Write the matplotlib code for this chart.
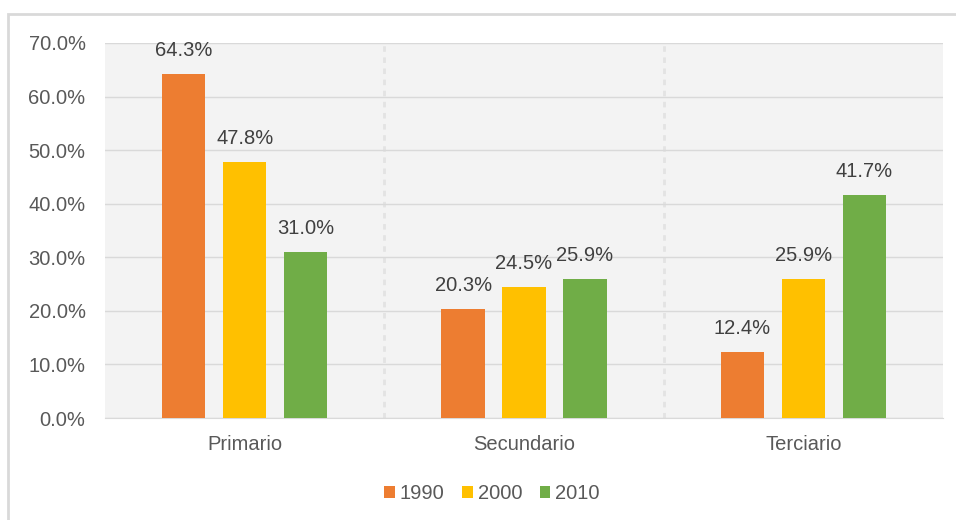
import numpy as np
import matplotlib
matplotlib.use('Agg')
import matplotlib.pyplot as plt
from matplotlib.patches import Rectangle

# ---------------- data ----------------
categories = ['Primario', 'Secundario', 'Terciario']
years = ['1990', '2000', '2010']
v1990 = [64.3, 20.3, 12.4]
v2000 = [47.8, 24.5, 25.9]
v2010 = [31.0, 25.9, 41.7]
colors = ['#ed7d31', '#ffc000', '#70ad47']

plt.rcParams['font.family'] = ['Liberation Sans', 'DejaVu Sans']
fs = 14.5
txt = '#595959'

fig = plt.figure(figsize=(9.56, 5.2), dpi=100)
# outer chart frame
fig.patches.append(Rectangle((8 / 956, -0.01), 0.995, 1 - 14 / 520 + 0.01,
                             transform=fig.transFigure, fill=False,
                             edgecolor='#d9d9d9', linewidth=2))

ax = fig.add_axes([105 / 956, 1 - 418 / 520, 838 / 956, 375 / 520])
ax.set_facecolor('#f3f3f3')

x = np.arange(len(categories))
width = 0.155
step = 0.218
for i, (vals, yr) in enumerate(zip([v1990, v2000, v2010], years)):
    pos = x + (i - 1) * step
    bars = ax.bar(pos, vals, width, color=colors[i], label=yr, zorder=3)
    for b, v in zip(bars, vals):
        ax.text(b.get_x() + b.get_width() / 2, v + 2.6, f'{v:.1f}%',
                ha='center', va='bottom', fontsize=fs, color='#404040')

ax.set_xlim(-0.5, 2.5)
ax.set_ylim(0, 70)
ax.set_yticks(np.arange(0, 71, 10))
ax.set_yticklabels([f'{t:.1f}%' for t in np.arange(0, 71, 10)])
ax.set_xticks(x)
ax.set_xticklabels(categories)
ax.tick_params(axis='both', length=0, labelsize=fs, colors=txt)
ax.tick_params(axis='y', pad=14)
ax.tick_params(axis='x', pad=12)

ax.grid(axis='y', color='#d9d9d9', linewidth=1, zorder=0)
for sep in [0.5, 1.5]:
    ax.axvline(sep, color='#e3e3e3', linewidth=2, linestyle=(0, (2, 2)), zorder=1)
for s in ['top', 'right', 'left']:
    ax.spines[s].set_visible(False)
ax.spines['bottom'].set_color('#d9d9d9')

ax.legend(loc='upper center', bbox_to_anchor=(0.462, -0.128), ncol=3, frameon=False,
          fontsize=fs, handlelength=0.5, handleheight=0.5, handletextpad=0.25,
          columnspacing=0.9, labelcolor=txt)

fig.savefig('out.png', dpi=100)
